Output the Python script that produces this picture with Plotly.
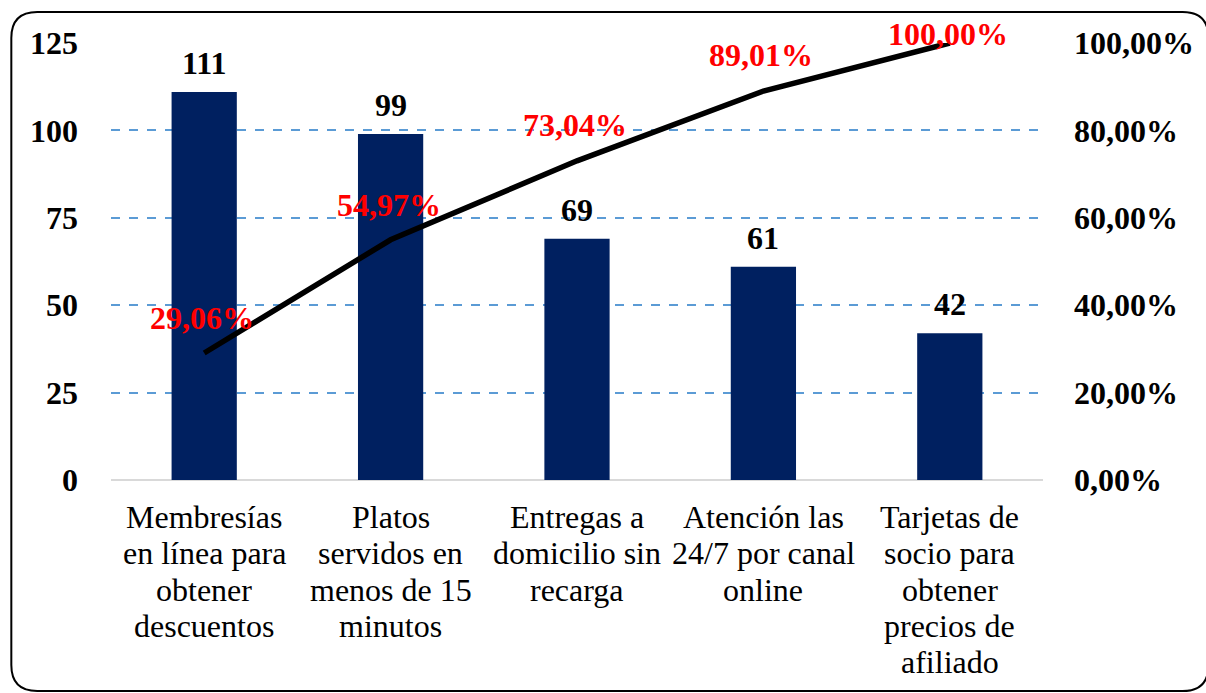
import plotly.graph_objects as go

categories = [
    "Membresías en línea para obtener descuentos",
    "Platos servidos en menos de 15 minutos",
    "Entregas a domicilio sin recarga",
    "Atención las 24/7 por canal online",
    "Tarjetas de socio para obtener precios de afiliado",
]
category_lines = [
    ["Membresías", "en línea para", "obtener", "descuentos"],
    ["Platos", "servidos en", "menos de 15", "minutos"],
    ["Entregas a", "domicilio sin", "recarga"],
    ["Atención las", "24/7 por canal", "online"],
    ["Tarjetas de", "socio para", "obtener", "precios de", "afiliado"],
]
counts = [111, 99, 69, 61, 42]
cum_pct = [29.06, 54.97, 73.04, 89.01, 100.00]
left_ticks = [0, 25, 50, 75, 100, 125]
right_ticks = [0, 20, 40, 60, 80, 100]

FONT = "Liberation Serif, Times New Roman, serif"
FS = 32
W, H = 1206, 693
L, R, T, B = 111, 160, 43, 213
PW, PH = W - L - R, H - T - B

def fmt_pct(v):
    return f"{v:,.2f}%".replace(".", "#").replace(",", ".").replace("#", ",")

fig = go.Figure()
fig.add_trace(go.Bar(
    x=categories, y=counts, width=0.35,
    marker=dict(color="#002060", line=dict(width=0)),
    yaxis="y", hoverinfo="skip",
))
fig.add_trace(go.Scatter(
    x=categories, y=[v / 100 for v in cum_pct], mode="lines",
    line=dict(color="black", width=5.5),
    yaxis="y2", hoverinfo="skip",
))

annotations = []
# bar value labels
for c, v in zip(categories, counts):
    annotations.append(dict(
        x=c, y=v, xref="x", yref="y", text=f"<b>{v}</b>", showarrow=False,
        yanchor="middle", yshift=29,
        font=dict(family=FONT, size=FS, color="black"),
    ))
# cumulative percentage labels
pct_shift = [35, 35, 36, 36, 9]
for c, v, s in zip(categories, cum_pct, pct_shift):
    annotations.append(dict(
        x=c, y=v / 100, xref="x", yref="y2", text=f"<b>{fmt_pct(v)}</b>",
        showarrow=False, yanchor="middle", yshift=s, xshift=-2,
        font=dict(family=FONT, size=FS, color="#ff0000"),
    ))
# category labels (one annotation per line for tight line spacing)
for c, lines in zip(categories, category_lines):
    for i, ln in enumerate(lines):
        annotations.append(dict(
            x=c, y=0, xref="x", yref="y", text=ln, showarrow=False,
            yanchor="middle", yshift=-37 - 36.3 * i,
            font=dict(family=FONT, size=FS, color="black"),
        ))

# rounded border in paper coordinates
def px2x(px):
    return (px - L) / PW

def py2y(py):
    return (H - B - py) / PH

x0, x1, y0, y1, r = 11, 1212, 12, 691, 26
path = (
    f"M {px2x(x0 + r)},{py2y(y0)} L {px2x(x1 - r)},{py2y(y0)} "
    f"Q {px2x(x1)},{py2y(y0)} {px2x(x1)},{py2y(y0 + r)} "
    f"L {px2x(x1)},{py2y(y1 - r)} Q {px2x(x1)},{py2y(y1)} {px2x(x1 - r)},{py2y(y1)} "
    f"L {px2x(x0 + r)},{py2y(y1)} Q {px2x(x0)},{py2y(y1)} {px2x(x0)},{py2y(y1 - r)} "
    f"L {px2x(x0)},{py2y(y0 + r)} Q {px2x(x0)},{py2y(y0)} {px2x(x0 + r)},{py2y(y0)} Z"
)

fig.update_layout(
    width=W, height=H,
    margin=dict(l=L, r=R, t=T, b=B),
    paper_bgcolor="white", plot_bgcolor="white",
    showlegend=False,
    annotations=annotations,
    shapes=[dict(type="path", path=path, xref="paper", yref="paper",
                 line=dict(color="black", width=2), layer="above")],
    xaxis=dict(
        showgrid=False, showline=False, zeroline=False, ticks="",
        showticklabels=False,
    ),
    yaxis=dict(
        range=[0, 125], tickvals=left_ticks,
        ticktext=[f"<b>{t}</b>" for t in left_ticks],
        showgrid=True, gridcolor="#5b9bd5", griddash="dash", gridwidth=1.5,
        zeroline=True, zerolinecolor="#d9d9d9", zerolinewidth=2,
        showline=False, ticks="",
        tickfont=dict(family=FONT, size=FS, color="black"),
        ticklabelstandoff=32,
    ),
    yaxis2=dict(
        range=[0, 1], overlaying="y", side="right",
        tickvals=[t / 100 for t in right_ticks],
        ticktext=[f"<b>{fmt_pct(t)}</b>" for t in right_ticks],
        showgrid=False, zeroline=False, showline=False, ticks="",
        tickfont=dict(family=FONT, size=FS, color="black"),
        ticklabelstandoff=30,
    ),
)

fig.write_html("out.html")
